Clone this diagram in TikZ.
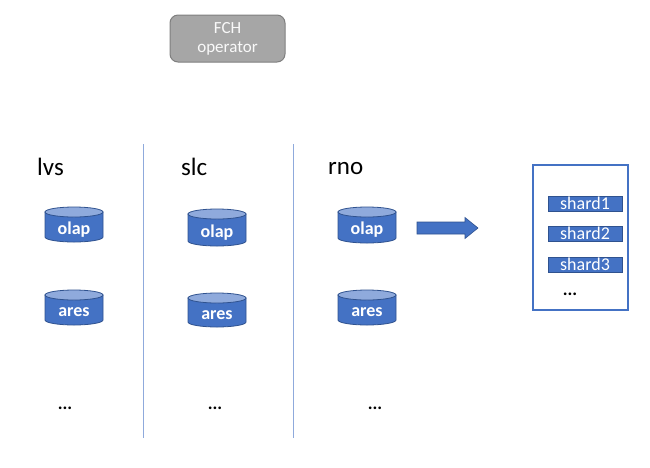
\documentclass[tikz,border=0pt]{standalone}
\usepackage{fontspec}
\setmainfont{Carlito}
\definecolor{obl}{HTML}{4472C4}
\definecolor{obd}{HTML}{2F528F}
\definecolor{obt}{HTML}{8FAADC}
\definecolor{sep}{HTML}{8FAADC}
\definecolor{gfill}{HTML}{A6A6A6}
\definecolor{gline}{HTML}{7F7F7F}
\newcommand{\dbcyl}[5]{% name, cx, top, bottom, text
  \filldraw[cylbody] (#2-29,#3+5) -- (#2-29,#4-5) arc[start angle=180,end angle=0,x radius=29,y radius=5] -- (#2+29,#3+5) -- cycle;
  \filldraw[cyltop] (#2,#3+5) ellipse[x radius=29,y radius=5];
  \node[cyltxt] (#1) at (#2,{(#3+10+#4)/2}) {#5};
}
\begin{document}
\begin{tikzpicture}[x=1pt,y=-1pt,
  cylbody/.style={fill=obl,draw=obd,line width=0.8pt},
  cyltop/.style={fill=obt,draw=obd,line width=0.8pt},
  cyltxt/.style={text=white,font=\fontsize{18}{18}\selectfont\bfseries,inner sep=0pt},
  region/.style={anchor=base west,inner sep=0pt,font=\fontsize{25}{25}\selectfont},
  dots/.style={inner sep=0pt,font=\fontsize{18}{18}\selectfont\bfseries},
  sepline/.style={draw=sep,line width=1pt},
  shardbox/.style={fill=obl,draw=obd,line width=0.6pt,minimum width=74pt,minimum height=15pt,inner sep=0pt,text=white,font=\fontsize{18}{18}\selectfont},
  opbox/.style={fill=gfill,draw=gline,line width=1pt,rounded corners=8pt,minimum width=115pt,minimum height=47pt,text=white!95!gray,align=center,font=\fontsize{17}{19}\selectfont,inner sep=0pt},
  arrowshape/.style={fill=obl,draw=obd,line width=0.6pt},
  store/.style={draw=obl,line width=1.5pt}
]
\useasboundingbox (0,0) rectangle (650,467);
\node[opbox] (fch) at (227.5,38.5) {FCH\\operator};

\coordinate (l1t) at (143,144);
\coordinate (l1b) at (143,438);
\coordinate (l2t) at (293,144);
\coordinate (l2b) at (293,438);
\draw[sepline] (l1t) -- (l1b);
\draw[sepline] (l2t) -- (l2b);

\node[region] (lvs) at (37,175) {lvs};
\node[region] (slc) at (181,175) {slc};
\node[region] (rno) at (328,174) {rno};

\dbcyl{lvsolap}{74}{207}{242}{olap}
\dbcyl{lvsares}{74}{290}{325}{ares}
\dbcyl{slcolap}{217}{209}{246}{olap}
\dbcyl{slcares}{217}{293}{327}{ares}
\dbcyl{rnoolap}{367}{207}{243}{olap}
\dbcyl{rnoares}{367}{290}{325}{ares}

\node[dots] (lvsdots) at (65,408) {...};
\node[dots] (slcdots) at (215,408) {...};
\node[dots] (rnodots) at (375,408) {...};

\coordinate (arrtail) at (417,228);
\coordinate (arrtip) at (478,228);
\filldraw[arrowshape] ([yshift=6pt]arrtail) -- (465,222) -- (465,217.5) -- (arrtip) -- (465,238.5) -- (465,234) -- ([yshift=-6pt]arrtail) -- cycle;

\draw[store] (533,165) rectangle (628,310);
\node[shardbox] (s1) at (585,203.5) {shard1};
\node[shardbox] (s2) at (585,233.5) {shard2};
\node[shardbox] (s3) at (585,264.5) {shard3};
\node[dots] (sdots) at (570,294) {...};
\end{tikzpicture}
\end{document}
